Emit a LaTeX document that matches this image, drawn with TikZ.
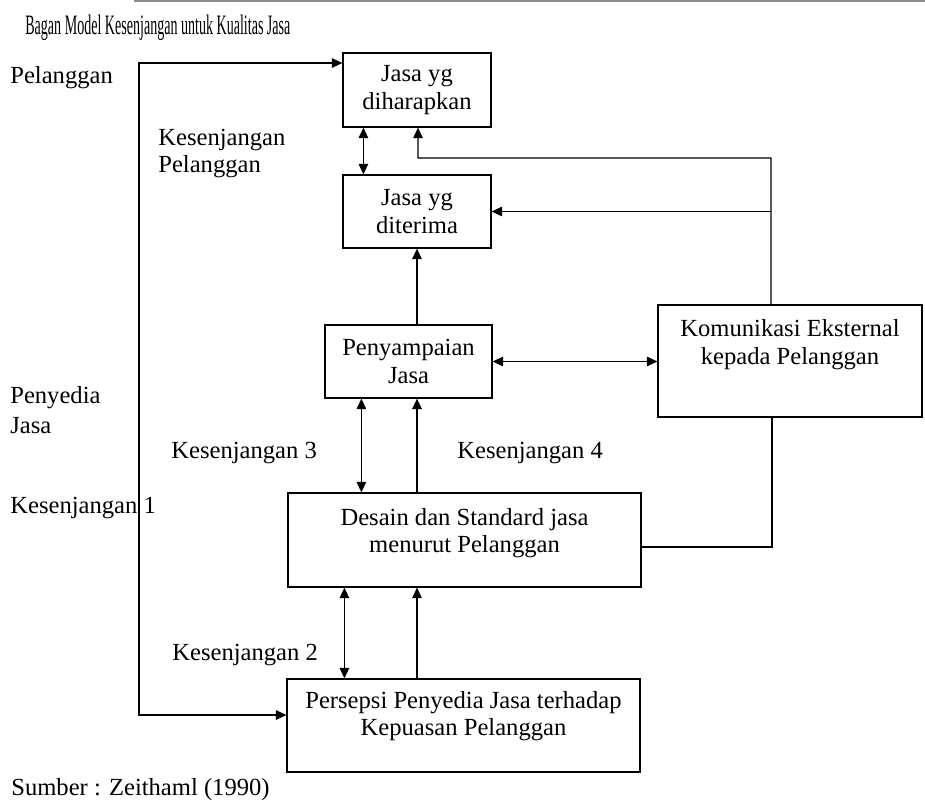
\documentclass[tikz,border=0pt]{standalone}
\usepackage{fontspec}
\setmainfont{Liberation Serif}
\newfontfamily\judulfont[FakeStretch=0.5]{Liberation Serif}
\usetikzlibrary{arrows.meta,calc}

\tikzset{
	kotak/.style={draw, line width=0.7pt, inner sep=0pt, align=center},
	panah/.style={-{Triangle[length=2.1mm,width=1.9mm]}, line width=0.6pt},
	panahtebal/.style={panah, line width=0.9pt},
	panahdua/.style={{Triangle[length=2.1mm,width=1.9mm]}-{Triangle[length=2.1mm,width=1.9mm]}, line width=0.6pt},
	garis/.style={line width=0.6pt},
	teks/.style={anchor=west, inner sep=0pt, align=left},
}

\begin{document}
\begin{tikzpicture}[x=0.02cm, y=-0.02cm, font=\fontsize{14}{15.5}\selectfont]
			%%%%% START %%%%%
			\useasboundingbox (0, 0) rectangle (925, 805);
			
			\draw[line width=0.05cm, color=black!45] (134, 1) -- (925, 1);
			
			\node[teks, font=\judulfont\fontsize{16}{18}\selectfont] (judul) at (25, 28) {Bagan Model Kesenjangan untuk Kualitas Jasa};
			
			% kotak
			\node[kotak, minimum width=2.96cm, minimum height=1.48cm] (harap) at (417, 90) {Jasa yg\\diharapkan};
			\node[kotak, minimum width=2.96cm, minimum height=1.46cm] (terima) at (417, 211.5) {Jasa yg\\diterima};
			\node[kotak, minimum width=3.34cm, minimum height=1.46cm] (sampai) at (408.5, 361.5) {Penyampaian\\Jasa};
			\node[kotak, minimum width=5.28cm, minimum height=2.24cm] (kom) at (790, 361) {};
			\node[align=center, inner sep=0pt] (komteks) at ([yshift=0.33cm]kom.center) {Komunikasi Eksternal\\kepada Pelanggan};
			\node[kotak, minimum width=7.06cm, minimum height=1.88cm] (desain) at (464.5, 540) {};
			\node[align=center, inner sep=0pt] (desainteks) at ([yshift=0.14cm]desain.center) {Desain dan Standard jasa\\menurut Pelanggan};
			\node[kotak, minimum width=7.06cm, minimum height=1.86cm] (persepsi) at (463.5, 725.5) {};
			\node[align=center, inner sep=0pt] (persepsiteks) at ([yshift=0.19cm]persepsi.center) {Persepsi Penyedia Jasa terhadap\\Kepuasan Pelanggan};
			
			% label
			\node[teks] (pelanggan) at (10, 78) {Pelanggan};
			\node[teks] (ksjpel) at (158, 153.5) {Kesenjangan\\Pelanggan};
			\node[teks, font=\fontsize{14}{17}\selectfont] (penyedia) at (10, 410) {Penyedia\\Jasa};
			\node[teks] (ksj3) at (171, 453) {Kesenjangan 3};
			\node[teks] (ksj4) at (457, 453) {Kesenjangan 4};
			\node[teks] (ksj1) at (10, 508) {Kesenjangan 1};
			\node[teks] (ksj2) at (172, 655) {Kesenjangan 2};
			\node[teks] (sumber) at (11, 790) {Sumber : Zeithaml (1990)};
			
			% panah
			\draw[panahdua] ([xshift=0.42cm]harap.south west) -- ([xshift=0.42cm]terima.north west);
			
			\coordinate (balik) at (771, 158);
			\draw[panah] ([xshift=-0.38cm]kom.north) -- (balik) -| ([xshift=0.02cm]harap.south);
			\draw[panah] (terima.east -| balik) -- (terima.east);
			
			\draw[panahtebal] (terima.south |- sampai.north) -- (terima.south);
			\draw[panahdua] (sampai.east) -- (sampai.east -| kom.west);
			
			\draw[panahdua] ([xshift=0.74cm]sampai.south west) -- ([xshift=0.74cm]sampai.south west |- desain.north);
			\draw[panahtebal] (terima.south |- desain.north) -- (terima.south |- sampai.south);
			
			\draw[garis] ([xshift=-0.36cm]kom.south) |- ([yshift=-0.14cm]desain.east);
			
			\draw[panahdua] ([xshift=1.14cm]desain.south west) -- ([xshift=1.14cm]desain.south west |- persepsi.north);
			\draw[panah] (persepsi.north -| terima.south) -- (desain.south -| terima.south);
			
			\coordinate (kiri) at (139, 400);
			\draw[panahdua] ([yshift=0.21cm]persepsi.west) -| (kiri) |- ([yshift=0.54cm]harap.west);
			
			%%%%% END %%%%%
\end{tikzpicture}
\end{document}
